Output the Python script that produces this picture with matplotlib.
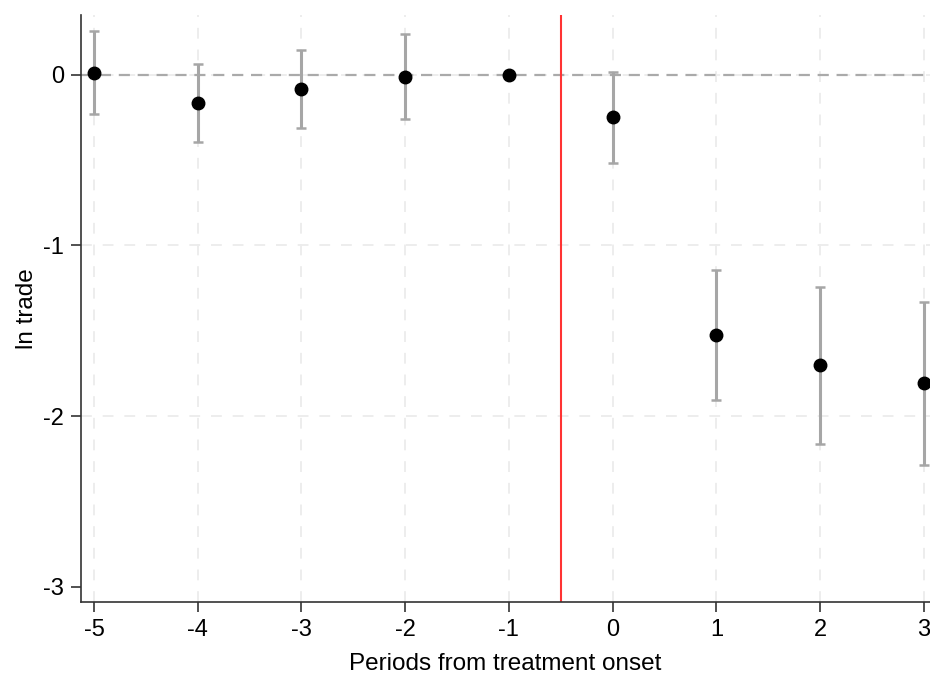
import numpy as np
import matplotlib.pyplot as plt

plt.rcParams['font.family'] = ['Liberation Sans', 'DejaVu Sans']

# event-study estimates
periods = [-5, -4, -3, -2, -1, 0, 1, 2, 3]
coef = [0.013, -0.166, -0.086, -0.012, 0.0, -0.25, -1.526, -1.703, -1.806]
ci_low = [-0.228, -0.394, -0.312, -0.258, 0.0, -0.52, -1.906, -2.164, -2.285]
ci_high = [0.254, 0.064, 0.148, 0.24, 0.0, 0.018, -1.146, -1.244, -1.33]
yticks = [0, -1, -2, -3]

coef = np.array(coef)
err = np.array([coef - np.array(ci_low), np.array(ci_high) - coef])
has_ci = err.sum(axis=0) > 0

fig = plt.figure(figsize=(9.3, 6.84), dpi=100)
ax = fig.add_axes([0.0871, 0.1199, 0.9129, 0.8581])

ax.grid(True, color='#ececec', linestyle=(0, (6, 6)), linewidth=1.3)
ax.set_axisbelow(True)

ax.axhline(0, color='#aaaaaa', linestyle=(0, (5, 3.5)), linewidth=1.6, zorder=1)
ax.axvline(-0.5, color='#ff3333', linewidth=1.5, zorder=2)

x = np.array(periods)
ax.errorbar(x[has_ci], coef[has_ci], yerr=err[:, has_ci], fmt='none',
            ecolor='#a6a6a6', elinewidth=2.2, capsize=3.5, capthick=1.8, zorder=3)
ax.plot(x, coef, 'o', color='black', markersize=9, zorder=4)

ax.set_xlim(-5.125, 3.06)
ax.set_ylim(-3.09, 0.35)
ax.set_xticks(periods)
ax.set_yticks(yticks)
ax.set_xticklabels([str(p) for p in periods])
ax.set_yticklabels([str(t) for t in yticks])

# no horizontal grid at the bottom tick in the original
ax.yaxis.get_gridlines()[-1].set_visible(False)

for s in ['top', 'right']:
    ax.spines[s].set_visible(False)
for s in ['left', 'bottom']:
    ax.spines[s].set_color('#333333')
    ax.spines[s].set_linewidth(1.2)

ax.tick_params(axis='both', direction='out', length=7, width=1.2,
               color='#333333', labelsize=17, pad=5)

ax.set_xlabel('Periods from treatment onset', fontsize=17.5, labelpad=9)
ax.set_ylabel('ln trade', fontsize=17.5, labelpad=4)

fig.savefig('out.png', dpi=100)
